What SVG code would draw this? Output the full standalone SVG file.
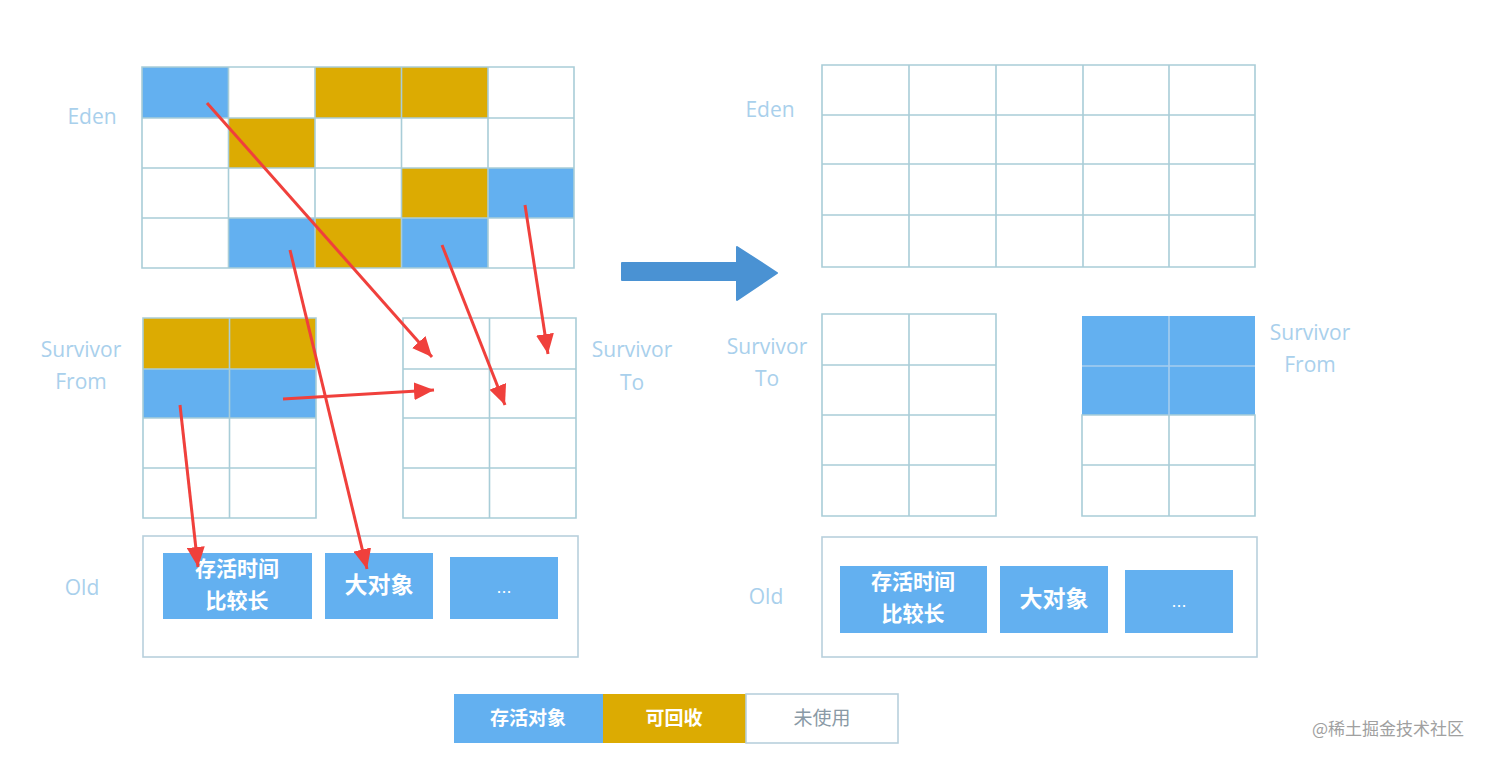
<svg xmlns="http://www.w3.org/2000/svg" width="1490" height="761" viewBox="0 0 1490 761">
<defs>
<style>
.b{fill:#63b0f0}
.g{fill:#dcab02}
.grid{fill:none;stroke:#a9cdd8;stroke-width:1.6}
.box{fill:#ffffff;stroke:#b8d0dc;stroke-width:1.6}
.lbl{font-family:"Open Sans","Liberation Sans",sans-serif;font-size:21px;fill:#a9d0ec;text-anchor:middle}
.cn{font-family:"Noto Sans CJK SC",sans-serif;font-weight:bold;font-size:23px;fill:#ffffff;text-anchor:middle}
.cn2{font-family:"Noto Sans CJK SC",sans-serif;font-weight:bold;font-size:21px;fill:#ffffff;text-anchor:middle}
.dots{font-family:"Liberation Sans",sans-serif;font-size:18px;fill:#ffffff;text-anchor:middle}
.leg{font-family:"Noto Sans CJK SC",sans-serif;font-weight:bold;font-size:19px;fill:#ffffff;text-anchor:middle}
.red{stroke:#f0403c;stroke-width:3;fill:none;marker-end:url(#ah)}
</style>
<marker id="ah" markerUnits="userSpaceOnUse" markerWidth="22" markerHeight="18" refX="20" refY="9" orient="auto">
<path d="M0,0 L20,9 L0,18 Z" fill="#f0403c"/>
</marker>
</defs>
<rect width="1490" height="761" fill="#ffffff"/>

<g id="left-eden">
<rect class="b" x="142" y="67" width="86.5" height="51"/>
<rect class="g" x="315" y="67" width="86.5" height="51"/>
<rect class="g" x="401.5" y="67" width="86.5" height="51"/>
<rect class="g" x="228.5" y="118" width="86.5" height="50"/>
<rect class="g" x="401.5" y="168" width="86.5" height="50"/>
<rect class="b" x="488" y="168" width="86" height="50"/>
<rect class="b" x="228.5" y="218" width="86.5" height="50"/>
<rect class="g" x="315" y="218" width="86.5" height="50"/>
<rect class="b" x="401.5" y="218" width="86.5" height="50"/>
<path class="grid" d="M142,67H574V268H142Z M228.5,67V268 M315,67V268 M401.5,67V268 M488,67V268 M142,118H574 M142,168H574 M142,218H574"/>
<text class="lbl" x="92" y="124">Eden</text>
</g>

<g id="left-survivor-from">
<rect class="g" x="143" y="318" width="173" height="51"/>
<rect class="b" x="143" y="369" width="173" height="49"/>
<path class="grid" d="M143,318H316V518H143Z M229.5,318V518 M143,369H316 M143,418H316 M143,468H316"/>
<text class="lbl" x="81" y="357">Survivor</text>
<text class="lbl" x="81" y="389">From</text>
</g>

<g id="left-survivor-to">
<path class="grid" d="M403,318H576V518H403Z M489.5,318V518 M403,369H576 M403,418H576 M403,468H576"/>
<text class="lbl" x="632" y="357">Survivor</text>
<text class="lbl" x="632" y="390">To</text>
</g>

<g id="left-old">
<rect class="box" x="143" y="536" width="435" height="121"/>
<rect class="b" x="163" y="553" width="149" height="66"/>
<rect class="b" x="325" y="553" width="108" height="66"/>
<rect class="b" x="450" y="557" width="108" height="62"/>
<text class="cn2" x="237" y="576">存活时间</text>
<text class="cn2" x="237" y="608">比较长</text>
<text class="cn" x="379" y="593">大对象</text>
<text class="dots" x="504" y="593">...</text>
<text class="lbl" x="82" y="595">Old</text>
</g>

<g id="transition-arrow">
<path d="M622,263 H737 V247 L777,273 L737,300 V280 H622 Z" fill="#4a92d3" stroke="#4a92d3" stroke-width="2" stroke-linejoin="round"/>
</g>

<g id="right-eden">
<path class="grid" d="M822,65H1255V267H822Z M909,65V267 M996,65V267 M1083,65V267 M1169,65V267 M822,115H1255 M822,164H1255 M822,215H1255"/>
<text class="lbl" x="770" y="117">Eden</text>
</g>

<g id="right-survivor-to">
<path class="grid" d="M822,314H996V516H822Z M909,314V516 M822,365H996 M822,415H996 M822,465H996"/>
<text class="lbl" x="767" y="354">Survivor</text>
<text class="lbl" x="767" y="386">To</text>
</g>

<g id="right-survivor-from">
<rect class="b" x="1082" y="316" width="173" height="99"/>
<path class="grid" d="M1082,415H1255V516H1082Z M1169,415V516 M1082,465H1255"/>
<path d="M1169,316V415 M1082,366H1255" stroke="#a6cdee" stroke-width="1.6" fill="none"/>
<text class="lbl" x="1310" y="340">Survivor</text>
<text class="lbl" x="1310" y="372">From</text>
</g>

<g id="right-old">
<rect class="box" x="822" y="537" width="435" height="120"/>
<rect class="b" x="840" y="566" width="147" height="67"/>
<rect class="b" x="1000" y="566" width="108" height="67"/>
<rect class="b" x="1125" y="570" width="108" height="63"/>
<text class="cn2" x="913" y="589">存活时间</text>
<text class="cn2" x="913" y="621">比较长</text>
<text class="cn" x="1054" y="607">大对象</text>
<text class="dots" x="1179" y="607">...</text>
<text class="lbl" x="766" y="604">Old</text>
</g>

<g id="connectors">
<line class="red" x1="207" y1="103" x2="432" y2="357"/>
<line class="red" x1="283" y1="399" x2="434" y2="390"/>
<line class="red" x1="442" y1="245" x2="505" y2="405"/>
<line class="red" x1="525" y1="205" x2="548" y2="354"/>
<line class="red" x1="180" y1="405" x2="198" y2="567"/>
<line class="red" x1="290" y1="250" x2="367" y2="569"/>
</g>

<g id="legend">
<rect class="b" x="454" y="694" width="149" height="49"/>
<rect class="g" x="603" y="694" width="143" height="49"/>
<rect x="746" y="694" width="152" height="49" fill="#ffffff" stroke="#b8d0dc" stroke-width="1.6"/>
<text class="leg" x="528" y="725">存活对象</text>
<text class="leg" x="674" y="725">可回收</text>
<text class="leg" x="822" y="725" style="font-weight:normal;fill:#8a9aa6">未使用</text>
</g>

<text x="1388" y="735" text-anchor="middle" font-family="Noto Sans CJK SC, sans-serif" font-size="17" fill="#a0a0a0">@稀土掘金技术社区</text>
</svg>
